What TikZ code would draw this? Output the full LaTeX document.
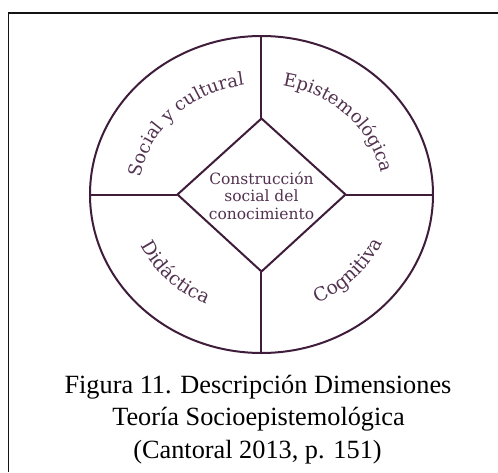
\documentclass[tikz,border=0pt]{standalone}
\usepackage{fontspec}
\setmainfont{Liberation Serif}
\newfontfamily\diagfont{DejaVu Serif}
\usetikzlibrary{decorations.text}

\definecolor{rimcol}{RGB}{62,28,58}
\definecolor{labelcol}{RGB}{82,50,80}
\definecolor{framecol}{RGB}{20,20,20}

\newcommand{\upperfont}{\diagfont\fontsize{18}{18}\selectfont\color{labelcol}}
\newcommand{\lowerfont}{\diagfont\fontsize{18.8}{18.8}\selectfont\color{labelcol}}

\tikzset{
  rim/.style={draw=rimcol, line width=2pt},
  framebar/.style={draw=framecol, line width=1.8pt},
  upperlabel/.style={decorate, decoration={text along path, text align=center, text={|\upperfont|#1}}},
  lowerlabel/.style={decorate, decoration={text along path, text align=center, text={|\lowerfont|#1}}},
  captionline/.style={anchor=base, font=\fontsize{26.3}{32}\selectfont, text=black, inner sep=0pt}
}

\begin{document}
\begin{tikzpicture}[x=1pt, y=1pt]
  % page extent, origin at the centre of the wheel
  \useasboundingbox (-261.5,-277.5) rectangle (236.5,194.5);

  % frame: top and left edges
  \coordinate (frTR) at (236.5,181.5);
  \coordinate (frTL) at (-253,181.5);
  \coordinate (frBL) at (-253,-277.5);
  \draw[framebar] (frTR) -- (frTL) -- (frBL);

  % outer wheel
  \coordinate (O) at (0,0);
  \coordinate (W) at (-171.5,0);
  \coordinate (E) at (171.5,0);
  \coordinate (N) at (0,158.5);
  \coordinate (S) at (0,-158.5);
  \draw[rim] (O) ellipse[x radius=171.5, y radius=158.5];

  % central diamond
  \coordinate (dW) at (-84,0);
  \coordinate (dE) at (84,0);
  \coordinate (dN) at (0,76);
  \coordinate (dS) at (0,-77);
  \draw[rim, line join=miter] (dW) -- (dN) -- (dE) -- (dS) -- cycle;

  % spokes from the diamond to the rim
  \draw[rim] (W) -- (dW);
  \draw[rim] (dE) -- (E);
  \draw[rim] (dN) -- (N);
  \draw[rim] (dS) -- (S);

  % centre text
  \node[align=center, text=labelcol, inner sep=0pt,
        font=\diagfont\fontsize{15.5}{17.5}\selectfont] (core) at (0,-1)
    {Construcción\\social del\\conocimiento};

  % curved labels in the four quadrants, on ellipses inside the rim
  \path[upperlabel={Social y cultural}]
    (O) ++(206:122 and 110.5) arc[start angle=206, end angle=66, x radius=122, y radius=110.5];
  \path[upperlabel={Epistemológica}]
    (O) ++(114:122 and 110.5) arc[start angle=114, end angle=-26, x radius=122, y radius=110.5];
  \path[lowerlabel={Didáctica}]
    (O) ++(176:133 and 121) arc[start angle=176, end angle=272, x radius=133, y radius=121];
  \path[lowerlabel={Cognitiva}]
    (O) ++(270:132 and 120) arc[start angle=270, end angle=364, x radius=132, y radius=120];

  % caption
  \node[captionline] (cap1) at (-3.5,-198.5) {Figura 11. Descripción Dimensiones};
  \node[captionline] (cap2) at (-3,-231) {Teoría Socioepistemológica};
  \node[captionline] (cap3) at (-4,-263.5) {(Cantoral 2013, p. 151)};
\end{tikzpicture}
\end{document}
